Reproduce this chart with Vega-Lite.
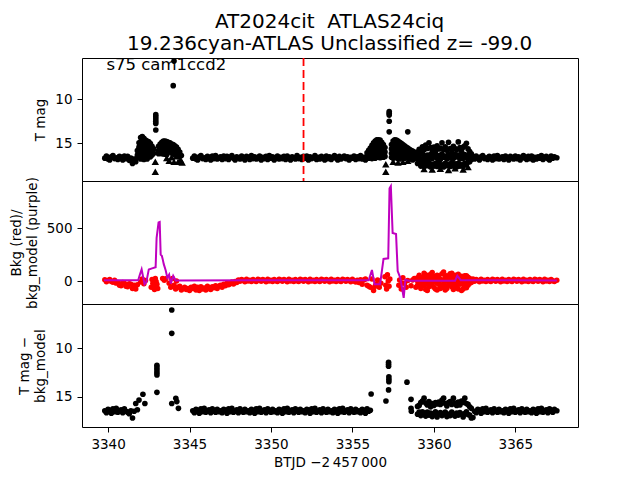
{
  "$schema": "https://vega.github.io/schema/vega-lite/v6.json",
  "padding": {"left": 8, "top": 12, "right": 5, "bottom": 5},
  "background": "white",
  "spacing": 0,
  "bounds": "flush",
  "title": {
    "text": ["AT2024cit\u00a0 ATLAS24ciq", "19.236cyan-ATLAS Unclassified z= -99.0"],
    "font": "DejaVu Sans",
    "fontSize": 20,
    "fontWeight": "normal",
    "color": "black",
    "anchor": "middle",
    "lineHeight": 22,
    "dx": 36,
    "offset": 2.5
  },
  "datasets": {
    "lc": [
      {"t":3339.8,"m":16.7,"d":16.45,"b":12},
      {"t":3339.9,"m":16.45,"d":16.65,"b":-8},
      {"t":3340.0,"m":16.8,"d":16.3,"b":5},
      {"t":3340.1,"m":16.9,"d":16.4,"b":15},
      {"t":3340.2,"m":16.55,"d":16.7,"b":-5},
      {"t":3340.3,"m":16.4,"d":16.25,"b":-12},
      {"t":3340.4,"m":16.75,"d":16.55,"b":8},
      {"t":3340.5,"m":16.65,"d":16.2,"b":-20},
      {"t":3340.6,"m":16.85,"d":16.6,"b":-15},
      {"t":3340.7,"m":16.5,"d":16.5,"b":-40},
      {"t":3340.8,"m":16.6,"d":16.35,"b":-45},
      {"t":3340.9,"m":16.9,"d":16.65,"b":-15},
      {"t":3341.0,"m":16.45,"d":16.25,"b":-20},
      {"t":3341.1,"m":16.75,"d":16.5,"b":-50},
      {"t":3341.2,"m":16.5,"d":16.6,"b":-55},
      {"t":3341.3,"m":16.95,"d":16.75,"b":-25},
      {"t":3341.4,"m":16.7,"d":16.45,"b":-30},
      {"t":3341.5,"m":17.3,"d":17.2,"b":-70},
      {"t":3341.6,"m":16.8,"d":16.5,"b":-40},
      {"t":3341.7,"m":17.1,"d":15.7,"b":-75},
      {"t":3341.8,"m":16.6,"d":16.35,"b":-35},
      {"t":3341.8,"m":15.85},{"t":3341.8,"m":16.35},
      {"t":3341.9,"m":14.95},{"t":3341.9,"m":15.45},{"t":3341.9,"m":15.95},{"t":3341.9,"m":16.45},
      {"t":3342.0,"m":14.35},{"t":3342.0,"m":14.85},{"t":3342.0,"m":15.35},{"t":3342.0,"m":15.85},{"t":3342.0,"m":16.35},{"t":3342.0,"m":16.8},
      {"t":3342.1,"m":14.25},{"t":3342.1,"m":14.75},{"t":3342.1,"m":15.25},{"t":3342.1,"m":15.75},{"t":3342.1,"m":16.25},
      {"t":3342.2,"m":14.45},{"t":3342.2,"m":14.95},{"t":3342.2,"m":15.45},{"t":3342.2,"m":15.95},{"t":3342.2,"m":16.45},{"t":3342.2,"m":16.85},
      {"t":3342.3,"m":14.65},{"t":3342.3,"m":15.15},{"t":3342.3,"m":15.65},{"t":3342.3,"m":16.15},{"t":3342.3,"m":16.6},
      {"t":3342.4,"m":14.75},{"t":3342.4,"m":15.25},{"t":3342.4,"m":15.75},{"t":3342.4,"m":16.25},{"t":3342.4,"m":16.8},
      {"t":3342.5,"m":14.85},{"t":3342.5,"m":15.35},{"t":3342.5,"m":15.85},{"t":3342.5,"m":16.35},
      {"t":3342.6,"m":15.05},{"t":3342.6,"m":15.55},{"t":3342.6,"m":16.05},{"t":3342.6,"m":16.55},
      {"t":3342.7,"m":15.35},{"t":3342.7,"m":15.85},{"t":3342.7,"m":16.35},
      {"t":3342.8,"m":15.65},{"t":3342.8,"m":16.15},
      {"t":3342.9,"m":17.1,"s":"^"},{"t":3342.9,"m":18.25,"s":"^"},
      {"t":3342.93,"m":11.75},{"t":3342.93,"m":12.0},{"t":3342.93,"m":12.25},{"t":3342.93,"m":12.5},{"t":3342.93,"m":12.75},{"t":3342.93,"m":13.5},
      {"t":3343.05,"m":15.95,"s":"^"},
      {"t":3343.1,"m":15.35},{"t":3343.1,"m":15.85},{"t":3343.1,"m":16.2},
      {"t":3343.2,"m":15.1},{"t":3343.2,"m":15.6},{"t":3343.2,"m":16.1},
      {"t":3343.3,"m":14.9},{"t":3343.3,"m":15.4},{"t":3343.3,"m":15.9},{"t":3343.3,"m":16.2},
      {"t":3343.4,"m":14.75},{"t":3343.4,"m":15.25},{"t":3343.4,"m":15.75},{"t":3343.4,"m":16.2},
      {"t":3343.5,"m":14.75},{"t":3343.5,"m":15.25},{"t":3343.5,"m":15.75},{"t":3343.5,"m":16.25},
      {"t":3343.6,"m":14.8},{"t":3343.6,"m":15.3},{"t":3343.6,"m":15.8},{"t":3343.6,"m":16.3},
      {"t":3343.7,"m":14.9},{"t":3343.7,"m":15.4},{"t":3343.7,"m":15.9},
      {"t":3343.8,"m":14.95},{"t":3343.8,"m":15.45},{"t":3343.8,"m":15.95},
      {"t":3343.9,"m":15.1},{"t":3343.9,"m":15.6},{"t":3343.9,"m":16.1},
      {"t":3344.0,"m":15.15},{"t":3344.0,"m":15.65},{"t":3344.0,"m":16.15},
      {"t":3344.1,"m":15.3},{"t":3344.1,"m":15.8},{"t":3344.1,"m":16.3},
      {"t":3344.2,"m":15.45},{"t":3344.2,"m":15.95},
      {"t":3344.3,"m":15.7},{"t":3344.3,"m":16.2},
      {"t":3344.4,"m":16.0},{"t":3344.4,"m":16.5},
      {"t":3344.5,"m":16.4},
      {"t":3344.0,"m":8.45},{"t":3344.05,"m":5.65},
      {"t":3343.6,"m":16.7,"s":"^"},{"t":3343.75,"m":17.0,"s":"^"},{"t":3343.9,"m":16.6,"s":"^"},{"t":3344.05,"m":17.1,"s":"^"},{"t":3344.2,"m":16.5,"s":"^"},{"t":3344.3,"m":17.1,"s":"^"},{"t":3344.45,"m":16.9,"s":"^"},{"t":3344.55,"m":17.2,"s":"^"},
      {"t":3341.9,"d":15.35},{"t":3342.14,"d":14.75},{"t":3342.26,"d":15.7},{"t":3343.0,"d":14.55},
      {"t":3343.0,"d":11.75},{"t":3343.0,"d":12.0},{"t":3343.0,"d":12.25},{"t":3343.0,"d":12.5},{"t":3343.0,"d":12.75},
      {"t":3343.91,"d":6.04},{"t":3343.91,"d":8.45},{"t":3343.91,"d":15.7},{"t":3344.16,"d":15.17},{"t":3344.22,"d":15.5},{"t":3344.32,"d":16.2},
      {"t":3342.0,"b":-10},{"t":3342.1,"b":20},{"t":3342.2,"b":-25},{"t":3342.3,"b":5},
      {"t":3342.65,"b":-60},{"t":3342.7,"b":15},{"t":3342.75,"b":-20},{"t":3342.8,"b":-40},{"t":3342.85,"b":-80},{"t":3342.9,"b":25},{"t":3342.95,"b":-5},{"t":3343.0,"b":-30},{"t":3343.05,"b":-70},
      {"t":3343.35,"b":25},{"t":3343.45,"b":8},{"t":3343.55,"b":22},
      {"t":3343.75,"b":-20},{"t":3343.85,"b":-60},{"t":3343.95,"b":25},{"t":3344.05,"b":-40},{"t":3344.15,"b":-75},{"t":3344.2,"b":0},
      {"t":3344.3,"b":-60},{"t":3344.4,"b":-50},{"t":3344.5,"b":-85},{"t":3344.6,"b":-70},{"t":3344.7,"b":-60},{"t":3344.8,"b":-80},{"t":3344.9,"b":-70},{"t":3345.0,"b":-90},{"t":3345.1,"b":-60},
      {"t":3345.2,"m":16.7,"d":16.45,"b":-70},
      {"t":3345.3,"m":16.45,"d":16.65,"b":-50},
      {"t":3345.4,"m":16.8,"d":16.3,"b":-85},
      {"t":3345.5,"m":16.9,"d":16.4,"b":-60},
      {"t":3345.6,"m":16.55,"d":16.7,"b":-90},
      {"t":3345.7,"m":16.4,"d":16.25,"b":-55},
      {"t":3345.8,"m":16.75,"d":16.55,"b":-75},
      {"t":3345.9,"m":16.65,"d":16.2,"b":-65},
      {"t":3346.0,"m":16.85,"d":16.6,"b":-85},
      {"t":3346.1,"m":16.5,"d":16.5,"b":-50},
      {"t":3346.2,"m":16.6,"d":16.35,"b":-70},
      {"t":3346.3,"m":16.9,"d":16.65,"b":-80},
      {"t":3346.4,"m":16.45,"d":16.25,"b":-55},
      {"t":3346.5,"m":16.75,"d":16.5,"b":-65},
      {"t":3346.6,"m":16.4,"d":16.6,"b":-45},
      {"t":3346.7,"m":16.8,"d":16.3,"b":-70},
      {"t":3346.8,"m":16.7,"d":16.55,"b":-50},
      {"t":3346.9,"m":16.55,"d":16.45,"b":-40},
      {"t":3347.0,"m":16.85,"d":16.65,"b":-60},
      {"t":3347.1,"m":16.45,"d":16.3,"b":-30},
      {"t":3347.2,"m":16.75,"d":16.4,"b":-45},
      {"t":3347.3,"m":16.5,"d":16.7,"b":-20},
      {"t":3347.4,"m":16.85,"d":16.25,"b":-35},
      {"t":3347.5,"m":16.6,"d":16.55,"b":-25},
      {"t":3347.6,"m":16.4,"d":16.2,"b":-10},
      {"t":3347.7,"m":16.7,"d":16.6,"b":-28},
      {"t":3347.8,"m":16.9,"d":16.5,"b":-5},
      {"t":3347.9,"m":16.55,"d":16.35,"b":-15},
      {"t":3348.0,"m":16.65,"d":16.65,"b":10},
      {"t":3348.1,"m":16.8,"d":16.25,"b":-3},
      {"t":3348.2,"m":16.45,"d":16.5,"b":15},
      {"t":3348.3,"m":16.7,"d":16.6,"b":5},
      {"t":3348.4,"m":16.9,"d":16.3,"b":-6},
      {"t":3348.5,"m":16.5,"d":16.55,"b":18},
      {"t":3348.6,"m":16.6,"d":16.45,"b":0},
      {"t":3348.7,"m":16.85,"d":16.65,"b":8},
      {"t":3348.8,"m":16.4,"d":16.3,"b":-4},
      {"t":3348.9,"m":16.75,"d":16.4,"b":14},
      {"t":3349.0,"m":16.55,"d":16.7,"b":2},
      {"t":3349.1,"m":16.8,"d":16.25,"b":-5},
      {"t":3349.2,"m":16.7,"d":16.55,"b":16},
      {"t":3349.3,"m":16.45,"d":16.2,"b":10},
      {"t":3349.4,"m":16.9,"d":16.6,"b":-3},
      {"t":3349.5,"m":16.6,"d":16.5,"b":15},
      {"t":3349.6,"m":16.75,"d":16.35,"b":5},
      {"t":3349.7,"m":16.5,"d":16.65,"b":-6},
      {"t":3349.8,"m":16.85,"d":16.25,"b":18},
      {"t":3349.9,"m":16.4,"d":16.5,"b":0},
      {"t":3350.0,"m":16.7,"d":16.6,"b":8},
      {"t":3350.1,"m":16.55,"d":16.3,"b":-4},
      {"t":3350.2,"m":16.9,"d":16.55,"b":14},
      {"t":3350.3,"m":16.65,"d":16.45,"b":2},
      {"t":3350.4,"m":16.45,"d":16.65,"b":-5},
      {"t":3350.5,"m":16.8,"d":16.3,"b":16},
      {"t":3350.6,"m":16.6,"d":16.4,"b":10},
      {"t":3350.7,"m":16.75,"d":16.7,"b":-3},
      {"t":3350.8,"m":16.5,"d":16.25,"b":15},
      {"t":3350.9,"m":16.85,"d":16.55,"b":5},
      {"t":3351.0,"m":16.45,"d":16.2,"b":-6},
      {"t":3351.1,"m":16.7,"d":16.6,"b":18},
      {"t":3351.2,"m":16.9,"d":16.5,"b":0},
      {"t":3351.3,"m":16.55,"d":16.35,"b":8},
      {"t":3351.4,"m":16.65,"d":16.65,"b":-4},
      {"t":3351.5,"m":16.8,"d":16.25,"b":14},
      {"t":3351.6,"m":16.4,"d":16.5,"b":2},
      {"t":3351.7,"m":16.75,"d":16.6,"b":-5},
      {"t":3351.8,"m":16.6,"d":16.3,"b":16},
      {"t":3351.9,"m":16.85,"d":16.55,"b":10},
      {"t":3352.0,"m":16.5,"d":16.45,"b":-3},
      {"t":3352.1,"m":16.7,"d":16.65,"b":15},
      {"t":3352.2,"m":16.45,"d":16.3,"b":5},
      {"t":3352.3,"m":16.9,"d":16.4,"b":-6},
      {"t":3352.4,"m":16.55,"d":16.7,"b":18},
      {"t":3352.5,"m":16.75,"d":16.25,"b":0},
      {"t":3352.6,"m":16.65,"d":16.55,"b":8},
      {"t":3352.7,"m":16.4,"d":16.2,"b":-4},
      {"t":3352.8,"m":16.85,"d":16.6,"b":14},
      {"t":3352.9,"m":16.6,"d":16.5,"b":2},
      {"t":3353.0,"m":16.8,"d":16.35,"b":-5},
      {"t":3353.1,"m":16.5,"d":16.65,"b":16},
      {"t":3353.2,"m":16.7,"d":16.25,"b":10},
      {"t":3353.3,"m":16.9,"d":16.5,"b":-3},
      {"t":3353.4,"m":16.45,"d":16.6,"b":15},
      {"t":3353.5,"m":16.75,"d":16.3,"b":5},
      {"t":3353.6,"m":16.55,"d":16.55,"b":-6},
      {"t":3353.7,"m":16.85,"d":16.45,"b":18},
      {"t":3353.8,"m":16.6,"d":16.65,"b":0},
      {"t":3353.9,"m":16.4,"d":16.3,"b":8},
      {"t":3354.0,"m":16.7,"d":16.4,"b":-4},
      {"t":3354.1,"m":16.9,"d":16.7,"b":14},
      {"t":3354.2,"m":16.5,"d":16.25,"b":2},
      {"t":3354.3,"m":16.8,"d":16.55,"b":-5},
      {"t":3354.4,"m":16.65,"d":16.2,"b":16},
      {"t":3354.5,"m":16.45,"d":16.6,"b":10},
      {"t":3354.6,"m":16.75,"d":16.5,"b":-3},
      {"t":3354.7,"m":16.55,"d":16.35,"b":15},
      {"t":3354.8,"m":16.9,"d":16.65,"b":5},
      {"t":3354.9,"m":16.6,"d":16.25,"b":-6},
      {"t":3355.0,"m":16.7,"d":16.5,"b":18},
      {"t":3355.1,"m":16.45,"d":16.6,"b":0},
      {"t":3355.2,"m":16.85,"d":16.3,"b":-10},
      {"t":3355.3,"m":16.55,"d":16.55,"b":8},
      {"t":3355.4,"m":16.75,"d":16.45,"b":-15},
      {"t":3355.5,"m":16.4,"d":16.65,"b":12},
      {"t":3355.6,"m":16.8,"d":16.3,"b":-30},
      {"t":3355.7,"m":16.6,"d":16.4,"b":10},
      {"t":3355.8,"m":16.9,"d":16.7,"b":20},
      {"t":3355.9,"m":16.5,"d":16.25,"b":-40},
      {"t":3356.0,"m":16.7,"d":16.5,"b":-50},
      {"t":3356.1,"d":16.4},
      {"t":3355.9,"m":16.1},
      {"t":3356.0,"m":15.8},{"t":3356.0,"m":16.3},
      {"t":3356.1,"m":15.55},{"t":3356.1,"m":16.05},{"t":3356.1,"m":16.55},
      {"t":3356.2,"m":15.25},{"t":3356.2,"m":15.75},{"t":3356.2,"m":16.25},{"t":3356.2,"m":16.75},
      {"t":3356.3,"m":14.95},{"t":3356.3,"m":15.45},{"t":3356.3,"m":15.95},{"t":3356.3,"m":16.45},
      {"t":3356.4,"m":14.75},{"t":3356.4,"m":15.25},{"t":3356.4,"m":15.75},{"t":3356.4,"m":16.25},{"t":3356.4,"m":16.7},
      {"t":3356.5,"m":14.6},{"t":3356.5,"m":15.1},{"t":3356.5,"m":15.6},{"t":3356.5,"m":16.1},{"t":3356.5,"m":16.6},
      {"t":3356.6,"m":14.6},{"t":3356.6,"m":15.1},{"t":3356.6,"m":15.6},{"t":3356.6,"m":16.1},{"t":3356.6,"m":16.6},
      {"t":3356.7,"m":14.65},{"t":3356.7,"m":15.15},{"t":3356.7,"m":15.65},{"t":3356.7,"m":16.15},{"t":3356.7,"m":16.65},
      {"t":3356.8,"m":14.9},{"t":3356.8,"m":15.4},{"t":3356.8,"m":15.9},{"t":3356.8,"m":16.4},
      {"t":3356.9,"m":15.15},{"t":3356.9,"m":15.65},{"t":3356.9,"m":16.15},{"t":3356.9,"m":16.6},
      {"t":3357.0,"m":15.5},{"t":3357.0,"m":16.0},{"t":3357.0,"m":16.5},
      {"t":3357.05,"m":17.4,"s":"^"},{"t":3357.05,"m":18.25,"s":"^"},
      {"t":3357.26,"m":11.4},{"t":3357.26,"m":11.6},{"t":3357.26,"m":11.8},{"t":3357.26,"m":12.5},{"t":3357.26,"m":13.7},
      {"t":3357.4,"m":15.15},{"t":3357.4,"m":15.65},{"t":3357.4,"m":16.15},{"t":3357.4,"m":16.6},
      {"t":3357.5,"m":14.75},{"t":3357.5,"m":15.25},{"t":3357.5,"m":15.75},{"t":3357.5,"m":16.25},{"t":3357.5,"m":16.7},
      {"t":3357.6,"m":14.6},{"t":3357.6,"m":15.1},{"t":3357.6,"m":15.6},{"t":3357.6,"m":16.1},{"t":3357.6,"m":16.6},
      {"t":3357.7,"m":14.65},{"t":3357.7,"m":15.15},{"t":3357.7,"m":15.65},{"t":3357.7,"m":16.15},{"t":3357.7,"m":16.65},
      {"t":3357.8,"m":14.75},{"t":3357.8,"m":15.25},{"t":3357.8,"m":15.75},{"t":3357.8,"m":16.25},{"t":3357.8,"m":16.75},
      {"t":3357.9,"m":14.9},{"t":3357.9,"m":15.4},{"t":3357.9,"m":15.9},{"t":3357.9,"m":16.4},{"t":3357.9,"m":16.8},
      {"t":3358.0,"m":15.0},{"t":3358.0,"m":15.5},{"t":3358.0,"m":16.0},{"t":3358.0,"m":16.5},
      {"t":3358.1,"m":15.15},{"t":3358.1,"m":15.65},{"t":3358.1,"m":16.15},{"t":3358.1,"m":16.6},
      {"t":3358.2,"m":15.3},{"t":3358.2,"m":15.8},{"t":3358.2,"m":16.3},{"t":3358.2,"m":16.7},
      {"t":3358.3,"m":15.45},{"t":3358.3,"m":15.95},{"t":3358.3,"m":16.45},
      {"t":3358.4,"m":15.55},{"t":3358.4,"m":16.05},{"t":3358.4,"m":16.55},
      {"t":3358.4,"m":13.7},
      {"t":3358.5,"m":15.7},{"t":3358.5,"m":16.2},{"t":3358.5,"m":16.7},
      {"t":3358.6,"m":15.8},{"t":3358.6,"m":16.3},{"t":3358.6,"m":16.8},
      {"t":3358.7,"m":15.9},{"t":3358.7,"m":16.4},{"t":3358.7,"m":16.9},
      {"t":3358.8,"m":16.0},{"t":3358.8,"m":16.5},
      {"t":3358.9,"m":16.2},{"t":3358.9,"m":16.7},
      {"t":3357.5,"m":17.1,"s":"^"},{"t":3357.8,"m":17.2,"s":"^"},{"t":3358.1,"m":17.1,"s":"^"},{"t":3358.4,"m":17.0,"s":"^"},
      {"t":3356.15,"d":14.72},{"t":3357.06,"d":15.44},
      {"t":3357.22,"d":11.45},{"t":3357.22,"d":11.65},{"t":3357.22,"d":11.85},
      {"t":3357.24,"d":12.95},{"t":3357.24,"d":13.2},{"t":3357.24,"d":13.45},{"t":3357.22,"d":14.3},
      {"t":3358.35,"d":13.5},{"t":3358.6,"d":15.27},{"t":3358.6,"d":16.2},{"t":3358.62,"d":16.5},
      {"t":3356.1,"b":-60},{"t":3356.2,"b":20},{"t":3356.3,"b":-90},{"t":3356.4,"b":-50},{"t":3356.45,"b":-30},{"t":3356.55,"b":10},{"t":3356.65,"b":-60},{"t":3356.75,"b":-20},
      {"t":3357.0,"b":40},{"t":3357.05,"b":-40},{"t":3357.1,"b":-75},{"t":3357.15,"b":60},{"t":3357.2,"b":0},{"t":3357.25,"b":-50},{"t":3357.3,"b":20},
      {"t":3357.85,"b":-40},{"t":3357.9,"b":10},{"t":3358.0,"b":-75},{"t":3358.05,"b":-20},{"t":3358.1,"b":30},{"t":3358.2,"b":-20},{"t":3358.3,"b":-60},{"t":3358.4,"b":5},{"t":3358.6,"b":-45},{"t":3358.7,"b":10},{"t":3358.8,"b":25},{"t":3358.9,"b":-60},
      {"t":3359.0,"m":16.0,"d":16.0,"b":-40},{"t":3359.0,"m":16.7,"d":16.8,"b":30},{"t":3359.0,"m":17.3,"b":0},
      {"t":3359.1,"m":15.7,"d":15.9,"b":55},{"t":3359.1,"m":16.4,"d":16.6,"b":-15},{"t":3359.1,"m":17.1,"b":-30},
      {"t":3359.2,"m":15.9,"d":15.6,"b":-70},{"t":3359.2,"m":16.8,"d":16.95,"b":10},{"t":3359.2,"m":17.6,"b":-20},
      {"t":3359.3,"m":15.4,"d":15.45,"b":35},{"t":3359.3,"m":16.2,"d":16.55,"b":-45},{"t":3359.3,"m":17.2,"b":20},
      {"t":3359.4,"m":15.75,"d":15.15,"b":-15},{"t":3359.4,"m":16.55,"d":16.85,"b":75},{"t":3359.4,"m":17.65,"b":-40},
      {"t":3359.5,"m":15.2,"d":15.65,"b":60},{"t":3359.5,"m":16.85,"d":17.0,"b":-80},{"t":3359.5,"m":17.35,"b":0},
      {"t":3359.6,"m":15.6,"d":15.85,"b":-90},{"t":3359.6,"m":16.35,"d":16.6,"b":25},{"t":3359.6,"m":17.55,"b":-30},
      {"t":3359.7,"m":14.95,"d":15.5,"b":10},{"t":3359.7,"m":16.6,"d":16.9,"b":-55},{"t":3359.7,"m":17.2,"b":40},
      {"t":3359.8,"m":15.5,"d":16.05,"b":-35},{"t":3359.8,"m":16.3,"d":16.7,"b":65},{"t":3359.8,"m":17.7,"b":0},
      {"t":3359.9,"m":15.85,"d":15.7,"b":80},{"t":3359.9,"m":16.75,"d":17.05,"b":-20},{"t":3359.9,"m":17.4,"b":30},
      {"t":3360.0,"m":15.45,"d":15.9,"b":-60},{"t":3360.0,"m":16.5,"d":16.75,"b":45},{"t":3360.0,"m":17.6,"b":-10},
      {"t":3360.1,"m":15.9,"d":15.6,"b":20},{"t":3360.1,"m":16.25,"d":16.55,"b":-75},{"t":3360.1,"m":17.3,"b":40},
      {"t":3360.2,"m":15.3,"d":15.75,"b":-85},{"t":3360.2,"m":16.7,"d":17.1,"b":55},{"t":3360.2,"m":17.65,"b":-20},
      {"t":3360.3,"m":15.65,"d":15.55,"b":50},{"t":3360.3,"m":16.4,"d":16.8,"b":-30},{"t":3360.3,"m":17.25,"b":0},
      {"t":3360.4,"m":15.55,"d":15.8,"b":-45},{"t":3360.4,"m":16.85,"d":16.65,"b":15},{"t":3360.4,"m":17.6,"b":-70},
      {"t":3360.5,"m":14.95,"d":15.35,"b":70},{"t":3360.5,"m":16.2,"d":16.95,"b":-60},{"t":3360.5,"m":17.45,"b":10},
      {"t":3360.6,"m":15.7,"d":15.15,"b":-25},{"t":3360.6,"m":16.6,"d":16.75,"b":85},{"t":3360.6,"m":17.7,"b":-50},
      {"t":3360.7,"m":15.4,"d":15.7,"b":40},{"t":3360.7,"m":16.45,"d":16.6,"b":-85},{"t":3360.7,"m":17.3,"b":0},
      {"t":3360.8,"m":15.8,"d":15.95,"b":-70},{"t":3360.8,"m":16.8,"d":17.05,"b":20},{"t":3360.8,"m":17.55,"b":50},
      {"t":3360.9,"m":14.9,"d":15.6,"b":25},{"t":3360.9,"m":16.3,"d":16.8,"b":-40},{"t":3360.9,"m":17.4,"b":-10},
      {"t":3361.0,"m":15.6,"d":15.5,"b":-10},{"t":3361.0,"m":16.65,"d":16.95,"b":70},{"t":3361.0,"m":17.65,"b":30},
      {"t":3361.1,"m":15.85,"d":15.8,"b":75},{"t":3361.1,"m":16.4,"d":16.6,"b":-55},{"t":3361.1,"m":17.2,"b":-10},
      {"t":3361.2,"m":15.35,"d":15.15,"b":-80},{"t":3361.2,"m":16.75,"d":16.85,"b":35},{"t":3361.2,"m":17.6,"b":-25},
      {"t":3361.3,"m":15.6,"d":15.65,"b":55},{"t":3361.3,"m":16.25,"d":17.0,"b":-20},{"t":3361.3,"m":17.35,"b":10},
      {"t":3361.4,"m":15.75,"d":15.9,"b":-55},{"t":3361.4,"m":16.55,"d":16.7,"b":45},{"t":3361.4,"m":17.7,"b":0},
      {"t":3361.5,"m":14.85,"d":15.55,"b":65},{"t":3361.5,"m":16.35,"d":16.9,"b":-75},{"t":3361.5,"m":17.3,"b":-20},
      {"t":3361.6,"m":15.5,"d":15.85,"b":-30},{"t":3361.6,"m":16.8,"d":16.65,"b":15},{"t":3361.6,"m":17.6,"b":40},
      {"t":3361.7,"m":15.9,"d":15.45,"b":45},{"t":3361.7,"m":16.45,"d":16.8,"b":-90},{"t":3361.7,"m":17.45,"b":-10},
      {"t":3361.8,"m":15.45,"d":15.6,"b":-75},{"t":3361.8,"m":16.7,"d":17.1,"b":30},{"t":3361.8,"m":17.65,"b":-30},
      {"t":3361.9,"m":15.3,"d":15.15,"b":20},{"t":3361.9,"m":16.3,"d":16.75,"b":-50},{"t":3361.9,"m":17.25,"b":50},
      {"t":3362.0,"m":15.0,"d":15.7,"b":-65},{"t":3362.0,"m":16.6,"d":16.55,"b":50},{"t":3362.0,"m":17.4,"b":-10},
      {"t":3362.1,"m":15.65,"d":15.8,"b":35},{"t":3362.1,"m":16.4,"d":16.85,"b":-40},{"t":3362.1,"m":17.15,"b":0},
      {"t":3362.2,"m":15.95,"d":16.05,"b":-20},{"t":3362.2,"m":16.75,"d":16.9,"b":25},{"t":3362.2,"m":17.1,"b":5},
      {"t":3362.3,"m":16.2,"d":16.2,"b":10},{"t":3362.3,"m":16.85,"d":17.2,"b":-15},
      {"t":3359.4,"m":17.95,"s":"^"},{"t":3359.9,"m":18.0,"s":"^"},{"t":3360.4,"m":17.9,"s":"^"},{"t":3360.9,"m":18.05,"s":"^"},{"t":3361.3,"m":17.85,"s":"^"},{"t":3361.8,"m":18.0,"s":"^"},{"t":3362.1,"m":17.7,"s":"^"},
      {"t":3362.4,"m":16.5,"d":17.15,"b":20},
      {"t":3362.5,"m":16.8,"d":16.5,"b":-3},
      {"t":3362.6,"m":16.45,"d":16.65,"b":15},
      {"t":3362.7,"m":16.7,"d":16.3,"b":5},
      {"t":3362.8,"m":16.9,"d":16.4,"b":-6},
      {"t":3362.9,"m":16.55,"d":16.7,"b":18},
      {"t":3363.0,"m":16.4,"d":16.25,"b":0},
      {"t":3363.1,"m":16.75,"d":16.55,"b":8},
      {"t":3363.2,"m":16.65,"d":16.2,"b":-4},
      {"t":3363.3,"m":16.85,"d":16.6,"b":14},
      {"t":3363.4,"m":16.5,"d":16.5,"b":2},
      {"t":3363.5,"m":16.6,"d":16.35,"b":-5},
      {"t":3363.6,"m":16.9,"d":16.65,"b":16},
      {"t":3363.7,"m":16.45,"d":16.25,"b":10},
      {"t":3363.8,"m":16.75,"d":16.5,"b":-3},
      {"t":3363.9,"m":16.4,"d":16.6,"b":15},
      {"t":3364.0,"m":16.8,"d":16.3,"b":5},
      {"t":3364.1,"m":16.7,"d":16.55,"b":-6},
      {"t":3364.2,"m":16.55,"d":16.45,"b":18},
      {"t":3364.3,"m":16.85,"d":16.65,"b":0},
      {"t":3364.4,"m":16.45,"d":16.3,"b":8},
      {"t":3364.5,"m":16.7,"d":16.4,"b":-4},
      {"t":3364.6,"m":16.9,"d":16.7,"b":14},
      {"t":3364.7,"m":16.5,"d":16.25,"b":2},
      {"t":3364.8,"m":16.65,"d":16.55,"b":-5},
      {"t":3364.9,"m":16.8,"d":16.2,"b":16},
      {"t":3365.0,"m":16.45,"d":16.6,"b":10},
      {"t":3365.1,"m":16.75,"d":16.5,"b":-3},
      {"t":3365.2,"m":16.55,"d":16.35,"b":15},
      {"t":3365.3,"m":16.9,"d":16.65,"b":5},
      {"t":3365.4,"m":16.6,"d":16.25,"b":-6},
      {"t":3365.5,"m":16.4,"d":16.5,"b":18},
      {"t":3365.6,"m":16.7,"d":16.6,"b":0},
      {"t":3365.7,"m":16.85,"d":16.3,"b":8},
      {"t":3365.8,"m":16.5,"d":16.55,"b":-4},
      {"t":3365.9,"m":16.75,"d":16.45,"b":14},
      {"t":3366.0,"m":16.45,"d":16.65,"b":2},
      {"t":3366.1,"m":16.9,"d":16.3,"b":-5},
      {"t":3366.2,"m":16.6,"d":16.4,"b":16},
      {"t":3366.3,"m":16.8,"d":16.7,"b":10},
      {"t":3366.4,"m":16.55,"d":16.25,"b":-3},
      {"t":3366.5,"m":16.7,"d":16.55,"b":15},
      {"t":3366.6,"m":16.4,"d":16.2,"b":5},
      {"t":3366.7,"m":16.85,"d":16.6,"b":-6},
      {"t":3366.8,"m":16.65,"d":16.5,"b":18},
      {"t":3366.9,"m":16.5,"d":16.35,"b":0},
      {"t":3367.0,"m":16.75,"d":16.65,"b":8},
      {"t":3367.1,"m":16.9,"d":16.25,"b":-4},
      {"t":3367.2,"m":16.45,"d":16.5,"b":14},
      {"t":3367.3,"m":16.7,"d":16.6,"b":2},
      {"t":3367.4,"m":16.55,"d":16.3,"b":-5},
      {"t":3367.55,"m":16.65,"d":16.45,"b":8}
    ],
    "model": [
      {"t":3339.75,"v":8},{"t":3341.85,"v":8},{"t":3341.95,"v":60},{"t":3342.06,"v":110},{"t":3342.24,"v":-30},{"t":3342.35,"v":-10},{"t":3342.5,"v":110},{"t":3342.7,"v":120},{"t":3342.92,"v":130},{"t":3342.98,"v":410},{"t":3343.1,"v":555},{"t":3343.17,"v":560},{"t":3343.23,"v":250},{"t":3343.3,"v":240},{"t":3343.35,"v":210},{"t":3343.42,"v":160},{"t":3343.54,"v":100},{"t":3343.64,"v":30},{"t":3343.75,"v":60},{"t":3343.85,"v":-25},{"t":3344.0,"v":50},{"t":3344.15,"v":6},{"t":3356.0,"v":8},{"t":3356.2,"v":105},{"t":3356.36,"v":-30},{"t":3356.7,"v":-30},{"t":3356.91,"v":210},{"t":3357.2,"v":215},{"t":3357.28,"v":880},{"t":3357.36,"v":900},{"t":3357.47,"v":455},{"t":3357.68,"v":445},{"t":3357.78,"v":95},{"t":3357.94,"v":30},{"t":3358.15,"v":-160},{"t":3358.25,"v":12},{"t":3358.46,"v":2},{"t":3361.3,"v":2},{"t":3361.44,"v":50},{"t":3361.65,"v":8},{"t":3367.55,"v":6}
    ]
  },
  "vconcat": [
    {
      "width": 496,
      "height": 123,
      "layer": [
        {
          "data": {"name": "lc"},
          "transform": [{"filter": "isValid(datum.m) && datum.s !== '^'"}],
          "mark": {"type": "point", "filled": true, "size": 32, "color": "black", "opacity": 1, "clip": true},
          "encoding": {
            "x": {"field": "t", "type": "quantitative", "scale": {"domain": [3338.4, 3368.85], "nice": false, "zero": false}, "axis": null},
            "y": {"field": "m", "type": "quantitative", "scale": {"domain": [5.3, 19.3], "reverse": true, "nice": false, "zero": false}, "axis": {"title": "T mag", "values": [10, 15]}}
          }
        },
        {
          "data": {"name": "lc"},
          "transform": [{"filter": "datum.s === '^'"}],
          "mark": {"type": "point", "shape": "triangle-up", "filled": true, "size": 55, "color": "black", "opacity": 1, "clip": true},
          "encoding": {
            "x": {"field": "t", "type": "quantitative"},
            "y": {"field": "m", "type": "quantitative", "axis": {"title": "T mag", "values": [10, 15]}}
          }
        },
        {
          "data": {"values": [{"t": 3352.0}]},
          "mark": {"type": "rule", "color": "#ff0000", "strokeDash": [8, 4], "strokeWidth": 1.8},
          "encoding": {
            "x": {"field": "t", "type": "quantitative"}
          }
        },
        {
          "data": {"values": [{"label": "s75 cam1ccd2"}]},
          "mark": {"type": "text", "align": "left", "baseline": "alphabetic", "font": "DejaVu Sans", "fontSize": 16.5, "color": "black"},
          "encoding": {
            "x": {"datum": 3339.9, "type": "quantitative"},
            "y": {"datum": 6.7, "type": "quantitative", "axis": {"title": "T mag", "values": [10, 15]}},
            "text": {"field": "label"}
          }
        }
      ]
    },
    {
      "width": 496,
      "height": 123,
      "layer": [
        {
          "data": {"name": "lc"},
          "transform": [{"filter": "isValid(datum.b)"}],
          "mark": {"type": "point", "filled": true, "size": 30, "color": "#ff0000", "opacity": 1, "clip": true},
          "encoding": {
            "x": {"field": "t", "type": "quantitative", "scale": {"domain": [3338.4, 3368.85], "nice": false, "zero": false}, "axis": null},
            "y": {"field": "b", "type": "quantitative", "scale": {"domain": [-218, 949], "nice": false, "zero": false}, "axis": {"title": ["Bkg (red)/", "bkg_model (purple)"], "values": [0, 500]}}
          }
        },
        {
          "data": {"name": "model"},
          "mark": {"type": "line", "color": "#bf00bf", "strokeWidth": 2, "clip": true},
          "encoding": {
            "x": {"field": "t", "type": "quantitative"},
            "y": {"field": "v", "type": "quantitative", "axis": {"title": ["Bkg (red)/", "bkg_model (purple)"], "values": [0, 500]}}
          }
        }
      ]
    },
    {
      "width": 496,
      "height": 123,
      "layer": [
        {
          "data": {"name": "lc"},
          "transform": [{"filter": "isValid(datum.d)"}],
          "mark": {"type": "point", "filled": true, "size": 32, "color": "black", "opacity": 1, "clip": true},
          "encoding": {
            "x": {"field": "t", "type": "quantitative", "scale": {"domain": [3338.4, 3368.85], "nice": false, "zero": false}, "axis": {"title": "BTJD \u22122\u2009457\u2009000", "values": [3340, 3345, 3350, 3355, 3360, 3365], "format": "d", "titlePadding": 5}},
            "y": {"field": "d", "type": "quantitative", "scale": {"domain": [5.42, 18.13], "reverse": true, "nice": false, "zero": false}, "axis": {"title": ["T mag \u2212", "bkg_model"], "values": [10, 15]}}
          }
        }
      ]
    }
  ],
  "config": {
    "font": "DejaVu Sans",
    "view": {"stroke": "black", "strokeWidth": 1},
    "axis": {
      "labelFont": "DejaVu Sans",
      "labelFontSize": 13.5,
      "labelColor": "black",
      "titleFont": "DejaVu Sans",
      "titleFontSize": 13.5,
      "titleFontWeight": "normal",
      "titleColor": "black",
      "titleLineHeight": 16,
      "tickColor": "black",
      "tickSize": 5,
      "tickWidth": 1,
      "grid": false,
      "domain": false,
      "labelPadding": 5,
      "titlePadding": 7
    }
  }
}
